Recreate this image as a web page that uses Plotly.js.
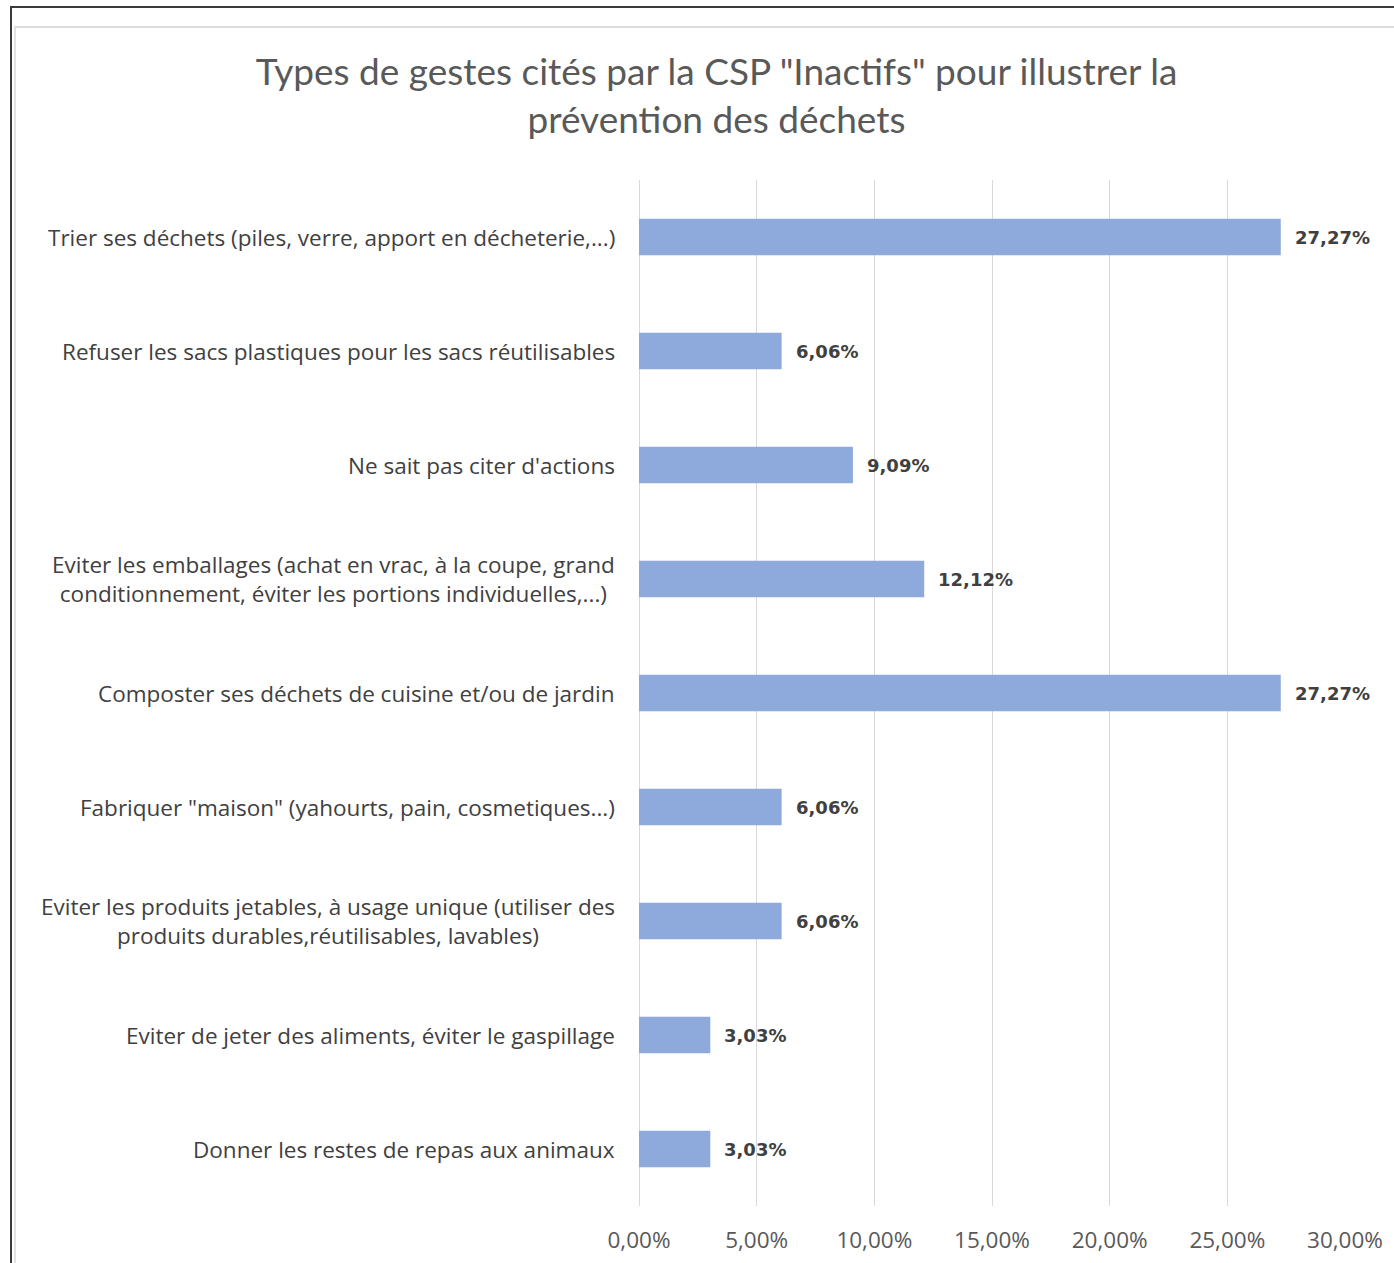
<!DOCTYPE html>
<html>
<head>
<meta charset="utf-8">
<script src="https://cdn.plot.ly/plotly-3.0.1.min.js"></script>
<style>
  html, body { margin: 0; padding: 0; background: #fff; overflow: hidden; }
  #chart { position: absolute; left: 0; top: 0; width: 1394px; height: 1263px; }
  .frame1 { position: absolute; left: 10px; top: 6px; width: 2000px; height: 2000px;
            border-left: 2px solid #3a3a3a; border-top: 2px solid #3a3a3a; pointer-events: none; }
  .frame2 { position: absolute; left: 14px; top: 26px; width: 2000px; height: 2000px;
            border-left: 2px solid #e2e2e2; border-top: 2px solid #dcdcdc; pointer-events: none; }
</style>
</head>
<body>
<div id="chart"></div>
<div class="frame1"></div>
<div class="frame2"></div>
<script>
const titleText = 'Types de gestes cités par la CSP "Inactifs" pour illustrer la<br>prévention des déchets';

const categories = [
  'Trier ses déchets (piles, verre, apport en décheterie,...)',
  'Refuser les sacs plastiques pour les sacs réutilisables',
  "Ne sait pas citer d'actions",
  'Eviter les emballages (achat en vrac, à la coupe, grand<br>conditionnement, éviter les portions individuelles,...)',
  'Composter ses déchets de cuisine et/ou de jardin',
  'Fabriquer "maison" (yahourts, pain, cosmetiques...)',
  'Eviter les produits jetables, à usage unique (utiliser des<br>produits durables,réutilisables, lavables)',
  'Eviter de jeter des aliments, éviter le gaspillage',
  'Donner les restes de repas aux animaux'
];

const values = [27.27, 6.06, 9.09, 12.12, 27.27, 6.06, 6.06, 3.03, 3.03];

const valueLabels = ['27,27%', '6,06%', '9,09%', '12,12%', '27,27%', '6,06%', '6,06%', '3,03%', '3,03%'];

const tickValues = [0, 5, 10, 15, 20, 25, 30];
const tickLabels = ['0,00%', '5,00%', '10,00%', '15,00%', '20,00%', '25,00%', '30,00%'];

const catIds = categories.map((c, i) => 'c' + i);

const trace = {
  type: 'bar',
  orientation: 'h',
  x: values,
  y: catIds,
  width: 0.32,
  marker: { color: '#8EA9DB' },
  hoverinfo: 'skip'
};

const annotations = [];
categories.forEach((c, i) => {
  annotations.push({
    xref: 'paper', yref: 'y', x: 0, y: catIds[i],
    text: c, showarrow: false, xanchor: 'right', yanchor: 'middle',
    align: 'center', xshift: -22,
    font: { family: 'Open Sans, sans-serif', size: 22.5, color: '#404040' }
  });
  annotations.push({
    xref: 'x', yref: 'y', x: values[i], y: catIds[i],
    text: '<b>' + valueLabels[i] + '</b>', showarrow: false,
    xanchor: 'left', yanchor: 'middle', xshift: 12,
    font: { family: 'DejaVu Sans, sans-serif', size: 18, color: '#404040' }
  });
});

const layout = {
  width: 1394, height: 1263,
  paper_bgcolor: 'rgba(0,0,0,0)',
  plot_bgcolor: 'rgba(0,0,0,0)',
  margin: { l: 639, r: 49, t: 180, b: 57 },
  title: {
    text: titleText,
    font: { family: 'Lato, sans-serif', size: 37, color: '#595959' },
    x: 0.514, xanchor: 'center', y: 0.933, yanchor: 'top'
  },
  showlegend: false,
  bargap: 0.68,
  xaxis: {
    range: [0, 30],
    tickvals: tickValues,
    ticktext: tickLabels,
    showgrid: true,
    gridcolor: '#D9D9D9',
    gridwidth: 1,
    zeroline: true,
    zerolinecolor: '#D9D9D9',
    showline: false,
    ticks: '',
    ticklabelstandoff: 18,
    tickfont: { family: 'Open Sans, sans-serif', size: 22.5, color: '#595959' },
    fixedrange: true
  },
  yaxis: {
    type: 'category',
    autorange: 'reversed',
    showticklabels: false,
    showgrid: false,
    zeroline: false,
    showline: false,
    ticks: '',
    fixedrange: true
  },
  annotations: annotations
};

Plotly.newPlot('chart', [trace], layout, { displayModeBar: false, staticPlot: true });
</script>
</body>
</html>
